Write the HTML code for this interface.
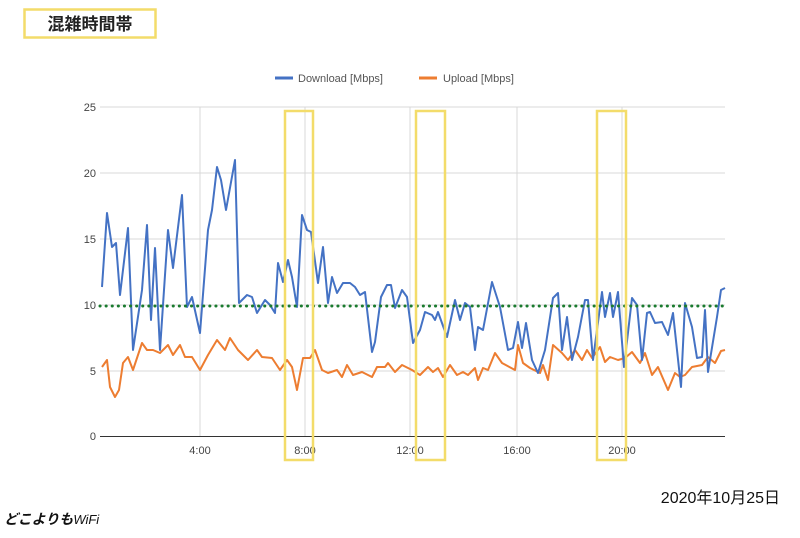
<!DOCTYPE html>
<html><head><meta charset="utf-8"><style>
body{margin:0;width:800px;height:533px;background:#fff;overflow:hidden;font-family:"Liberation Sans","Noto Sans CJK JP",sans-serif}
</style></head><body>
<svg width="800" height="533" xmlns="http://www.w3.org/2000/svg" font-family="Liberation Sans, Noto Sans CJK JP, sans-serif">
<rect x="24.5" y="9.5" width="131" height="28" fill="#fff" stroke="#f3dc6a" stroke-width="2.5"/>
<text x="90" y="30" font-size="17" font-weight="bold" text-anchor="middle" fill="#222">混雑時間帯</text>
<line x1="275" y1="78" x2="293" y2="78" stroke="#4472c4" stroke-width="3"/>
<text x="298" y="82" font-size="11" fill="#555">Download [Mbps]</text>
<line x1="419" y1="78" x2="437" y2="78" stroke="#ed7d31" stroke-width="3"/>
<text x="443" y="82" font-size="11" fill="#555">Upload [Mbps]</text>
<g stroke="#d9d9d9" stroke-width="1">
<line x1="100" y1="107" x2="725" y2="107"/><line x1="100" y1="173" x2="725" y2="173"/>
<line x1="100" y1="239" x2="725" y2="239"/><line x1="100" y1="305" x2="725" y2="305"/>
<line x1="100" y1="371" x2="725" y2="371"/>
<line x1="200" y1="107" x2="200" y2="436"/><line x1="305" y1="107" x2="305" y2="436"/>
<line x1="410" y1="107" x2="410" y2="436"/><line x1="517" y1="107" x2="517" y2="436"/>
<line x1="622" y1="107" x2="622" y2="436"/>
</g>
<line x1="100" y1="436.5" x2="725" y2="436.5" stroke="#333" stroke-width="1"/>
<g font-size="11" fill="#444" text-anchor="end">
<text x="96" y="111">25</text><text x="96" y="177">20</text><text x="96" y="243">15</text>
<text x="96" y="309">10</text><text x="96" y="375">5</text><text x="96" y="440">0</text>
</g>
<g font-size="11" fill="#444" text-anchor="middle">
<text x="200" y="454">4:00</text><text x="305" y="454">8:00</text><text x="410" y="454">12:00</text>
<text x="517" y="454">16:00</text><text x="622" y="454">20:00</text>
</g>
<polyline fill="none" stroke="#ed7d31" stroke-width="2" stroke-linejoin="round" points="102,367 107,360 110,387 115,397 119,390 123,363 128,357 133,370 142,343 147,350 153,350 160,353 168,345 173,355 180,345 185,357 192,357 200,370 208,355 217,340 225,350 230,338 238,350 248,360 257,350 262,357 272,358 280,370 287,360 292,367 297,390 303,358 310,358 315,350 322,370 328,373 337,370 342,377 347,365 353,375 362,372 372,377 377,367 385,367 388,363 395,372 402,365 412,370 420,375 428,367 433,372 438,368 443,377 450,365 457,375 463,372 468,375 475,368 478,380 483,368 488,370 495,353 502,363 515,370 518,345 523,363 530,368 540,373 543,365 548,380 553,345 562,353 568,360 575,350 582,360 587,350 592,358 600,347 605,362 610,357 618,360 625,358 632,352 640,363 645,353 652,375 658,367 668,390 675,373 680,377 685,375 692,367 702,365 708,357 715,363 721,351 725,350"/>
<polyline fill="none" stroke="#4472c4" stroke-width="2" stroke-linejoin="round" points="102,287 107,213 112,247 116,243 120,295 128,228 133,350 142,290 147,225 151,320 155,248 160,350 168,230 173,268 182,195 187,307 192,297 200,333 208,230 212,210 217,167 221,180 226,210 235,160 239,303 247,295 252,297 257,313 265,300 270,305 275,313 278,263 283,282 288,260 292,277 297,307 302,215 307,230 311,232 318,283 323,247 328,303 332,277 337,293 343,283 350,283 355,287 360,295 365,292 372,352 375,342 381,297 387,285 391,285 395,308 402,290 407,297 413,343 420,330 425,312 432,315 435,320 438,312 447,337 455,300 460,320 465,303 470,307 475,350 478,327 483,330 492,282 500,307 508,350 513,348 518,322 522,348 526,323 532,360 538,373 545,350 553,298 558,293 562,350 567,317 572,360 578,337 585,300 588,300 593,360 602,292 605,317 610,293 613,317 618,292 624,367 632,298 637,305 642,360 647,313 650,312 655,323 662,322 668,335 673,313 677,350 681,387 685,303 692,327 697,358 702,357 705,310 708,372 717,317 721,290 725,288"/>
<line x1="100" y1="306" x2="725" y2="306" stroke="#1a7a2e" stroke-width="3" stroke-dasharray="0.1 6" stroke-linecap="round"/>
<g fill="none" stroke="#f3dc6a" stroke-width="2.5">
<rect x="285" y="111" width="28" height="349"/>
<rect x="416" y="111" width="29" height="349"/>
<rect x="597" y="111" width="29" height="349"/>
</g>
<text x="780" y="503" font-size="16" fill="#111" text-anchor="end">2020年10月25日</text>
<text x="4" y="524" font-size="14" font-weight="bold" font-style="italic" fill="#111">どこよりも<tspan font-weight="normal" font-size="13">WiFi</tspan></text>
</svg>
</body></html>
